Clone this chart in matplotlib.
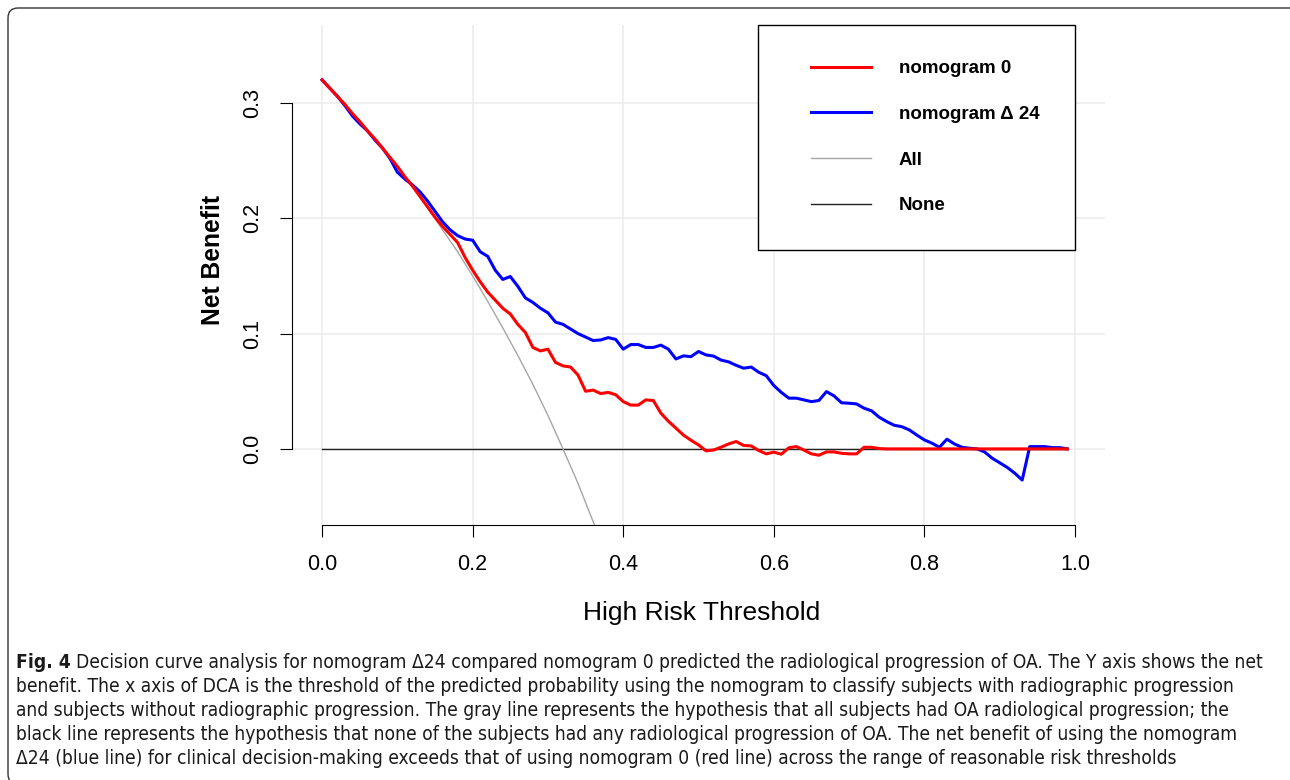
import matplotlib
matplotlib.use("Agg")
import numpy as np
import matplotlib.pyplot as plt
from matplotlib.lines import Line2D
from matplotlib.legend_handler import HandlerLine2D
from matplotlib.patches import FancyBboxPatch
from matplotlib.transforms import IdentityTransform

plt.rcParams['font.family'] = ['Liberation Sans', 'DejaVu Sans']

# Schwellenwerte (0.00 .. 0.99 in Schritten von 0.01)
thresholds = [i / 100 for i in range(100)]

# Net benefit, nomogram 0 (rot)
nb_nomo0 = [
    0.320, 0.313, 0.306, 0.299, 0.291, 0.284, 0.276, 0.269, 0.261, 0.253,
    0.245, 0.236, 0.228, 0.219, 0.210, 0.201, 0.193, 0.186, 0.179, 0.166,
    0.155, 0.145, 0.136, 0.129, 0.122, 0.117, 0.108, 0.101, 0.088, 0.085,
    0.0865, 0.075, 0.072, 0.071, 0.064, 0.050, 0.051, 0.048, 0.049, 0.047,
    0.041, 0.038, 0.038, 0.0425, 0.042, 0.031, 0.024, 0.018, 0.012, 0.0075,
    0.0035, -0.0017, -0.001, 0.0015, 0.0043, 0.0064, 0.003, 0.0026, -0.0014, -0.0043,
    -0.0028, -0.0046, 0.001, 0.002, -0.001, -0.0043, -0.0055, -0.0026, -0.0026, -0.0038,
    -0.0043, -0.0043, 0.0014, 0.0014, 0.0003, 0.0, 0.0, 0.0, 0.0, 0.0,
    0.0, 0.0, 0.0, 0.0, 0.0, 0.0, 0.0, 0.0, 0.0, 0.0,
    0.0, 0.0, 0.0, 0.0, 0.0, 0.0, 0.0, 0.0, 0.0, 0.0,
]

# Net benefit, nomogram Δ24 (blau)
nb_nomo24 = [
    0.320, 0.313, 0.306, 0.298, 0.289, 0.282, 0.276, 0.268, 0.261, 0.252,
    0.240, 0.234, 0.229, 0.223, 0.215, 0.206, 0.197, 0.190, 0.185, 0.182,
    0.181, 0.171, 0.167, 0.155, 0.147, 0.1495, 0.141, 0.131, 0.127, 0.122,
    0.118, 0.110, 0.108, 0.104, 0.100, 0.097, 0.094, 0.0945, 0.0965, 0.095,
    0.0865, 0.0905, 0.0905, 0.088, 0.088, 0.090, 0.0865, 0.078, 0.0807, 0.080,
    0.0845, 0.0815, 0.0805, 0.077, 0.0755, 0.0725, 0.070, 0.071, 0.0665, 0.0635,
    0.055, 0.049, 0.044, 0.044, 0.0425, 0.041, 0.042, 0.0497, 0.046, 0.040,
    0.0396, 0.039, 0.0353, 0.033, 0.0275, 0.0237, 0.0205, 0.0193, 0.0165, 0.012,
    0.0078, 0.005, 0.0014, 0.0084, 0.0043, 0.0014, 0.0006, 0.0, -0.0026, -0.008,
    -0.012, -0.016, -0.021, -0.027, 0.002, 0.002, 0.002, 0.0011, 0.0011, 0.0,
]

# "All"-Kurve (grau)
all_x = [0.00, 0.02, 0.04, 0.06, 0.08, 0.10, 0.12, 0.14, 0.16, 0.18,
         0.20, 0.22, 0.24, 0.26, 0.28, 0.30, 0.32, 0.34, 0.36, 0.38]
all_nb = [0.320, 0.306, 0.292, 0.277, 0.261, 0.244, 0.227, 0.209, 0.190, 0.171,
          0.150, 0.128, 0.105, 0.081, 0.056, 0.029, 0.000, -0.030, -0.063, -0.097]

none_x = [0.0, 0.99]
none_nb = [0.0, 0.0]

x_ticks = [0.0, 0.2, 0.4, 0.6, 0.8, 1.0]
y_ticks = [0.0, 0.1, 0.2, 0.3]

caption = [
    "benefit. The x axis of DCA is the threshold of the predicted probability using the nomogram to classify subjects with radiographic progression",
    "and subjects without radiographic progression. The gray line represents the hypothesis that all subjects had OA radiological progression; the",
    "black line represents the hypothesis that none of the subjects had any radiological progression of OA. The net benefit of using the nomogram",
    "\u039424 (blue line) for clinical decision-making exceeds that of using nomogram 0 (red line) across the range of reasonable risk thresholds",
]
caption_first = "Decision curve analysis for nomogram \u039424 compared nomogram 0 predicted the radiological progression of OA. The Y axis shows the net"


class TrimmedLine(HandlerLine2D):
    # Legendenlinie links kürzen (mehr Rand vor der Linie)
    def __init__(self, trim, **kw):
        super().__init__(**kw)
        self.trim = trim

    def create_artists(self, legend, orig_handle, xdescent, ydescent, width,
                       height, fontsize, trans):
        arts = super().create_artists(legend, orig_handle, xdescent, ydescent,
                                      width, height, fontsize, trans)
        for a in arts:
            xd = np.asarray(a.get_xdata(), dtype=float)
            if len(xd) >= 2:
                a.set_xdata(np.linspace(xd[0] + self.trim * fontsize, xd[-1], len(xd)))
        return arts


W, H = 1290, 780
fig = plt.figure(figsize=(W / 100, H / 100), dpi=100)
ax = fig.add_axes([292 / W, 1 - 525 / H, 813 / W, (525 - 24.6) / H])

ax.set_xlim(-0.04, 1.04)
ax.set_ylim(-0.066, 0.368)
ax.set_xticks(x_ticks)
ax.set_yticks(y_ticks)
ax.set_xticklabels([f"{v:.1f}" for v in x_ticks])
ax.set_yticklabels([f"{v:.1f}" for v in y_ticks], rotation=90, va="center")
ax.grid(True, color="#ebebeb", linewidth=1.1)
ax.set_axisbelow(True)

for s in ["top", "right"]:
    ax.spines[s].set_visible(False)
ax.spines["bottom"].set_bounds(0, 1)
ax.spines["left"].set_bounds(0, 0.3)
for s in ["bottom", "left"]:
    ax.spines[s].set_linewidth(0.8)
ax.tick_params(length=8.6, width=0.8, labelsize=15.5, pad=12)

ax.plot(none_x, none_nb, color="#222222", lw=1.0, label="None", zorder=2)
ax.plot(all_x, all_nb, color="#a6a6a6", lw=1.0, label="All", zorder=2)
ax.plot(thresholds, nb_nomo24, color="#0000ff", lw=2.2, label="nomogram \u0394 24", zorder=3)
ax.plot(thresholds, nb_nomo0, color="#ff0000", lw=2.2, label="nomogram 0", zorder=4)

h, l = ax.get_legend_handles_labels()
order = [3, 2, 1, 0]
leg = ax.legend([h[i] for i in order], [l[i] for i in order],
                loc="upper right", bbox_to_anchor=(1.04 / 1.08, 1.0),
                fancybox=False, edgecolor="black", framealpha=1,
                prop={"weight": "bold", "size": 13.5},
                borderpad=1.9, labelspacing=1.52, handlelength=4.1,
                handletextpad=1.5, borderaxespad=0,
                handler_map={Line2D: TrimmedLine(0.9)})
leg.get_frame().set_linewidth(1.0)

fig.text(702 / W, 1 - 613 / H, "High Risk Threshold", ha="center", va="center", fontsize=19)
fig.text(213 / W, 1 - 260 / H, "Net Benefit", ha="center", va="center",
         fontsize=17.7, fontweight="bold", rotation=90)

# Bildunterschrift
cap_font = ['DejaVu Sans', 'Liberation Sans']
cap_size = 14
cap_kw = dict(ha="left", va="center", family=cap_font, stretch="condensed",
              color="#1a1a1a")
fig_lbl = fig.text(16 / W, 1 - 662 / H, "Fig. 4", fontsize=cap_size,
                   fontweight="bold", **cap_kw)
first = fig.text(16 / W, 1 - 662 / H, caption_first, fontsize=cap_size, **cap_kw)
others = []
for i, line in enumerate(caption):
    t = fig.text(16 / W, 1 - (686 + 24 * i) / H, line, fontsize=cap_size, **cap_kw)
    others.append(t)
fig.canvas.draw()
r = fig.canvas.get_renderer()
scale = 1232 / others[0].get_window_extent(r).width
for t in [fig_lbl, first] + others:
    t.set_fontsize(cap_size * scale)
fig.canvas.draw()
lbl_w = fig_lbl.get_window_extent(r).width
first.set_x((16 + lbl_w + 5) / W)

box = FancyBboxPatch((8, -4), 1300, 776, boxstyle="round,pad=0,rounding_size=10",
                     transform=IdentityTransform(), fill=False, edgecolor="#333333",
                     linewidth=1.0)
fig.patches.append(box)

fig.savefig("out.png", dpi=100)
